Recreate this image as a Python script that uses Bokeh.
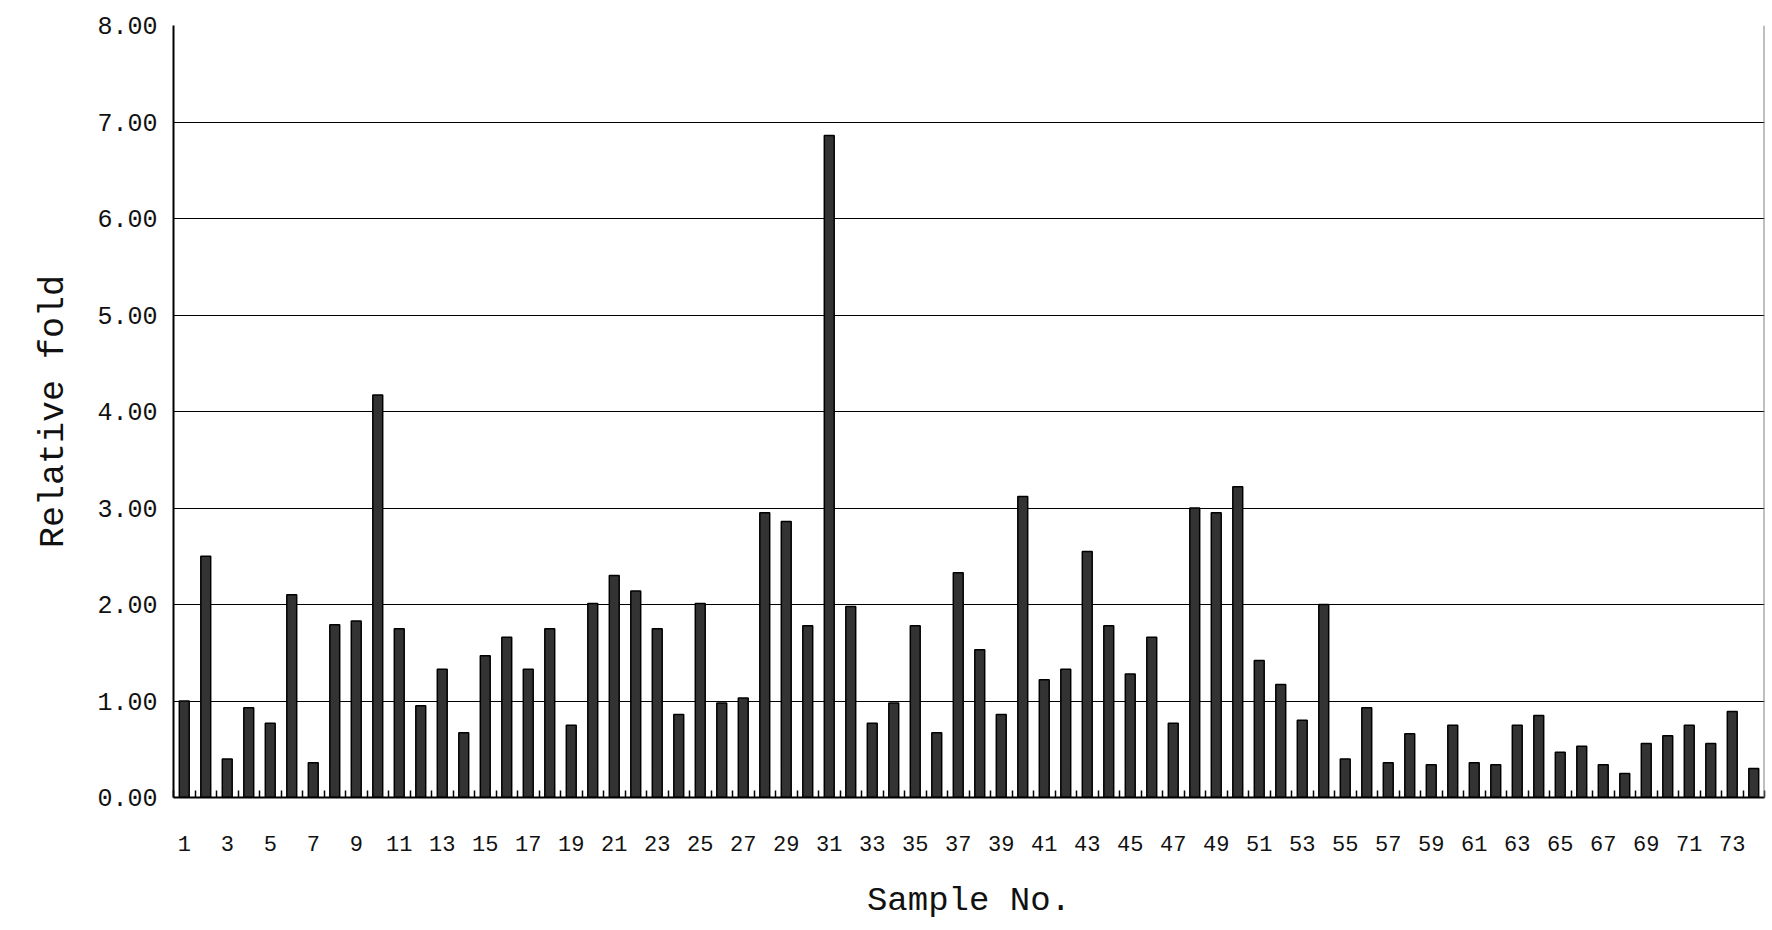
from bokeh.plotting import figure
from bokeh.models import FixedTicker, NumeralTickFormatter, Span, Range1d, ColumnDataSource
from bokeh.embed import file_html
from bokeh.resources import INLINE

samples = list(range(1, 75))
fold = [1.00, 2.50, 0.40, 0.93, 0.77, 2.10, 0.36, 1.79, 1.83, 4.17,
        1.75, 0.95, 1.33, 0.67, 1.47, 1.66, 1.33, 1.75, 0.75, 2.01,
        2.30, 2.14, 1.75, 0.86, 2.01, 0.98, 1.03, 2.95, 2.86, 1.78,
        6.86, 1.98, 0.77, 0.98, 1.78, 0.67, 2.33, 1.53, 0.86, 3.12,
        1.22, 1.33, 2.55, 1.78, 1.28, 1.66, 0.77, 3.00, 2.95, 3.22,
        1.42, 1.17, 0.80, 2.00, 0.40, 0.93, 0.36, 0.66, 0.34, 0.75,
        0.36, 0.34, 0.75, 0.85, 0.47, 0.53, 0.34, 0.25, 0.56, 0.64,
        0.75, 0.56, 0.89, 0.30]
x_tick_labels = list(range(1, 75, 2))
y_ticks = [0, 1, 2, 3, 4, 5, 6, 7, 8]

FONT = "Liberation Mono"

src = ColumnDataSource(dict(x=samples, top=fold))

p = figure(width=1766, height=922, output_backend="svg", toolbar_location=None,
           x_range=Range1d(0.5, len(samples) + 0.5), y_range=Range1d(0, 8))
p.min_border_left = 173
p.min_border_right = 2
p.min_border_top = 25
p.min_border_bottom = 125
p.outline_line_color = None
p.background_fill_color = "white"

p.vbar(x="x", top="top", bottom=0, width=0.46, source=src,
       fill_color="#333333", line_color="black", line_width=1.5)

# x axis
xt = FixedTicker(ticks=x_tick_labels,
                 minor_ticks=[i + 0.5 for i in range(0, len(samples) + 1)])
p.xaxis.ticker = xt
p.xaxis.major_tick_line_color = None
p.xaxis.minor_tick_in = 7
p.xaxis.minor_tick_out = 0
p.xaxis.minor_tick_line_color = "black"
p.xaxis.minor_tick_line_width = 1.5
p.xaxis.axis_line_color = "black"
p.xaxis.axis_line_width = 2
p.xaxis.major_label_text_font = FONT
p.xaxis.major_label_text_font_size = "22px"
p.xaxis.major_label_text_color = "#111111"
p.xaxis.major_label_standoff = 32
p.xaxis.axis_label = "Sample No."
p.xaxis.axis_label_text_font = FONT
p.xaxis.axis_label_text_font_size = "34px"
p.xaxis.axis_label_text_font_style = "normal"
p.xaxis.axis_label_text_color = "#111111"
p.xaxis.axis_label_standoff = 28

# y axis
p.yaxis.ticker = FixedTicker(ticks=y_ticks)
p.yaxis.formatter = NumeralTickFormatter(format="0.00")
p.yaxis.major_tick_in = 0
p.yaxis.major_tick_out = 0
p.yaxis.minor_tick_line_color = None
p.yaxis.axis_line_color = "black"
p.yaxis.axis_line_width = 2
p.yaxis.major_label_text_font = FONT
p.yaxis.major_label_text_font_size = "25px"
p.yaxis.major_label_text_color = "#111111"
p.yaxis.major_label_standoff = 16
p.yaxis.axis_label = "Relative fold"
p.yaxis.axis_label_text_font = FONT
p.yaxis.axis_label_text_font_size = "35px"
p.yaxis.axis_label_text_font_style = "normal"
p.yaxis.axis_label_text_color = "#111111"
p.yaxis.axis_label_standoff = 20

p.xgrid.grid_line_color = None
p.ygrid.grid_line_color = "black"
p.ygrid.grid_line_width = 1.2

p.add_layout(Span(location=len(samples) + 0.5, dimension="height",
                  line_color="#808080", line_width=2))

open("out.html", "w").write(file_html(p, INLINE))
